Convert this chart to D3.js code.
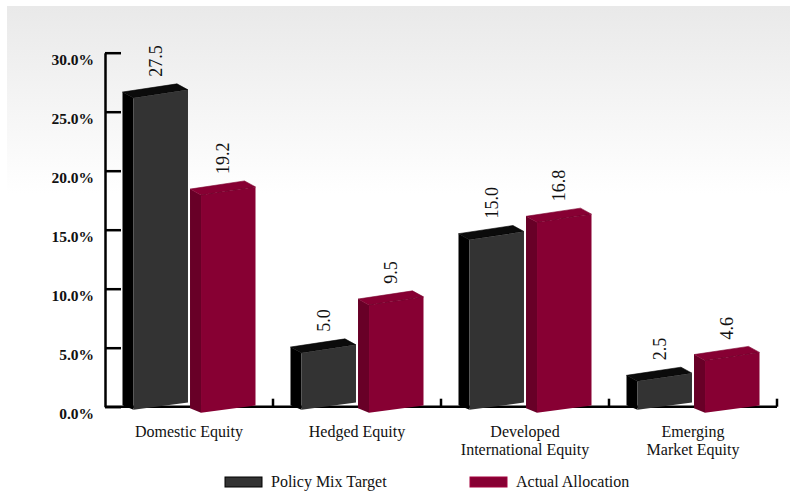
<!DOCTYPE html>
<html><head><meta charset="utf-8">
<script src="https://cdn.jsdelivr.net/npm/d3@7"></script>
<style>body{margin:0;background:#fff}svg{display:block}</style>
</head><body><svg id="c" width="790" height="501"></svg>
<script>
// ---- data ----
const categories = ["Domestic Equity", "Hedged Equity", "Developed International Equity", "Emerging Market Equity"];
const categoryLines = [["Domestic Equity"], ["Hedged Equity"], ["Developed", "International Equity"], ["Emerging", "Market Equity"]];
const seriesNames = ["Policy Mix Target", "Actual Allocation"];
const policyMixTarget = [27.5, 5.0, 15.0, 2.5];
const actualAllocation = [19.2, 9.5, 16.8, 4.6];
const yTickValues = [0, 5, 10, 15, 20, 25, 30];

// ---- style ----
const FONT = "'Liberation Serif', 'DejaVu Serif', serif";
const palette = [
  {front: "#333333", side: "#000000", top: "#0b0b0b", edge: "#000"},
  {front: "#870033", side: "#680027", top: "#870033", edge: "#7a002e"}
];
const sideW = 11, depthTop = 6, depthBot = 4.5, topSlope = 0.15, botSlope = 0.13;
const baseShift = [3, 6];

const svg = d3.select("#c");
const defs = svg.append("defs");
const grad = defs.append("linearGradient").attr("id", "bg").attr("x1", 0).attr("y1", 0).attr("x2", 0).attr("y2", 1);
grad.append("stop").attr("offset", 0).attr("stop-color", "#e9e9e9");
grad.append("stop").attr("offset", 0.38).attr("stop-color", "#ffffff");
grad.append("stop").attr("offset", 1).attr("stop-color", "#ffffff");
svg.append("rect").attr("x", 7).attr("y", 6).attr("width", 783).attr("height", 495).attr("fill", "url(#bg)");

// ---- scales ----
const x = d3.scaleBand().domain(categories).range([105, 777]).paddingInner(0).paddingOuter(0);
const xs = d3.scaleBand().domain([0, 1]).range([17.5, 150.5]).paddingInner(0.03).paddingOuter(0);
const y = d3.scaleLinear().domain([0, 30]).range([406.7, 52.7]);
const h = d3.scaleLinear().domain([0, 30]).range([0, 340]);

// ---- axes ----
const yAxis = d3.axisLeft(y).tickValues(yTickValues).tickSizeInner(-16).tickSizeOuter(0).tickPadding(11)
  .tickFormat(d => d3.format(".1f")(d) + "%");
const gy = svg.append("g").attr("transform", "translate(105,0)").call(yAxis);
gy.selectAll("path,line").attr("stroke", "#000").attr("stroke-width", 2.5);
gy.selectAll("text").attr("font-family", FONT).attr("font-size", 15.5).attr("font-weight", "bold")
  .attr("fill", "#111").attr("transform", "translate(0,7)");

const gx = svg.append("g");
gx.append("line").attr("x1", x.range()[0]).attr("x2", x.range()[1]).attr("y1", y(0)).attr("y2", y(0))
  .attr("stroke", "#000").attr("stroke-width", 2.5);
gx.selectAll("line.t").data(categories).join("line").attr("class", "t")
  .attr("x1", d => x(d) + x.bandwidth()).attr("x2", d => x(d) + x.bandwidth())
  .attr("y1", y(0)).attr("y2", y(0) - 8).attr("stroke", "#000").attr("stroke-width", 2.5);

// category labels
categories.forEach((c, i) => {
  const t = svg.append("text").attr("x", x(c) + x.bandwidth() / 2).attr("y", 437)
    .attr("text-anchor", "middle").attr("font-family", FONT).attr("font-size", 16).attr("fill", "#111");
  categoryLines[i].forEach((ln, j) => t.append("tspan").attr("x", x(c) + x.bandwidth() / 2).attr("dy", j ? 18 : 0).text(ln));
});

// ---- bars ----
const rows = [];
categories.forEach((c, i) => {
  [policyMixTarget[i], actualAllocation[i]].forEach((v, s) => rows.push({c, s, v}));
});
const bars = svg.append("g").selectAll("g").data(rows).join("g");
function geom(d) {
  const bl = x(d.c) + xs(d.s);
  const fl = bl + sideW;
  const fr = bl + xs.bandwidth();
  const fw = fr - fl;
  const base = y(0) + baseShift[d.s];
  const hh = h(d.v);
  const FLb = [fl, base], FRb = [fr, base - botSlope * fw];
  const FLt = [fl, base - hh], FRt = [fr, base - hh - topSlope * fw];
  const BLt = [fl - sideW, FLt[1] - depthTop], BRt = [fr - sideW, FRt[1] - depthTop];
  const BLb = [fl - sideW, base - depthBot];
  return {FLb, FRb, FLt, FRt, BLt, BRt, BLb, cx: (bl + fr) / 2, topY: BRt[1]};
}
const poly = pts => "M" + pts.map(p => p.join(",")).join("L") + "Z";
bars.append("path").attr("d", d => { const g = geom(d); return poly([g.BLb, g.BLt, g.FLt, g.FLb]); })
  .attr("fill", d => palette[d.s].side);
bars.append("path").attr("d", d => { const g = geom(d); return poly([g.BLt, g.BRt, g.FRt, g.FLt]); })
  .attr("fill", d => palette[d.s].top).attr("stroke", d => palette[d.s].edge).attr("stroke-width", 0.6);
bars.append("path").attr("d", d => { const g = geom(d); return poly([g.FLt, g.FRt, g.FRb, g.FLb]); })
  .attr("fill", d => palette[d.s].front);
bars.filter(d => d.s === 1).append("path")
  .attr("d", d => { const g = geom(d); return "M" + g.FLt.join(",") + "L" + g.FRt.join(","); })
  .attr("stroke", "#6e0029").attr("stroke-width", 0.8).attr("stroke-dasharray", "5,3");

// value labels
bars.append("text").attr("transform", d => { const g = geom(d); return `translate(${g.cx},${g.topY - 7}) rotate(-90)`; })
  .attr("dy", "0.35em").attr("font-family", FONT).attr("font-size", 18).attr("fill", "#111")
  .text(d => d3.format(".1f")(d.v));

// ---- legend ----
const legendX = [225, 470];
const lg = svg.append("g").selectAll("g").data(seriesNames).join("g")
  .attr("transform", (d, i) => `translate(${legendX[i]},477)`);
lg.append("rect").attr("width", 37).attr("height", 10)
  .attr("fill", (d, i) => palette[i].front).attr("stroke", (d, i) => i ? "#a3003d" : "#000").attr("stroke-width", 1);
lg.append("text").attr("x", 46).attr("y", 10).attr("font-family", FONT).attr("font-size", 16).attr("fill", "#111").text(d => d);
</script></body></html>
